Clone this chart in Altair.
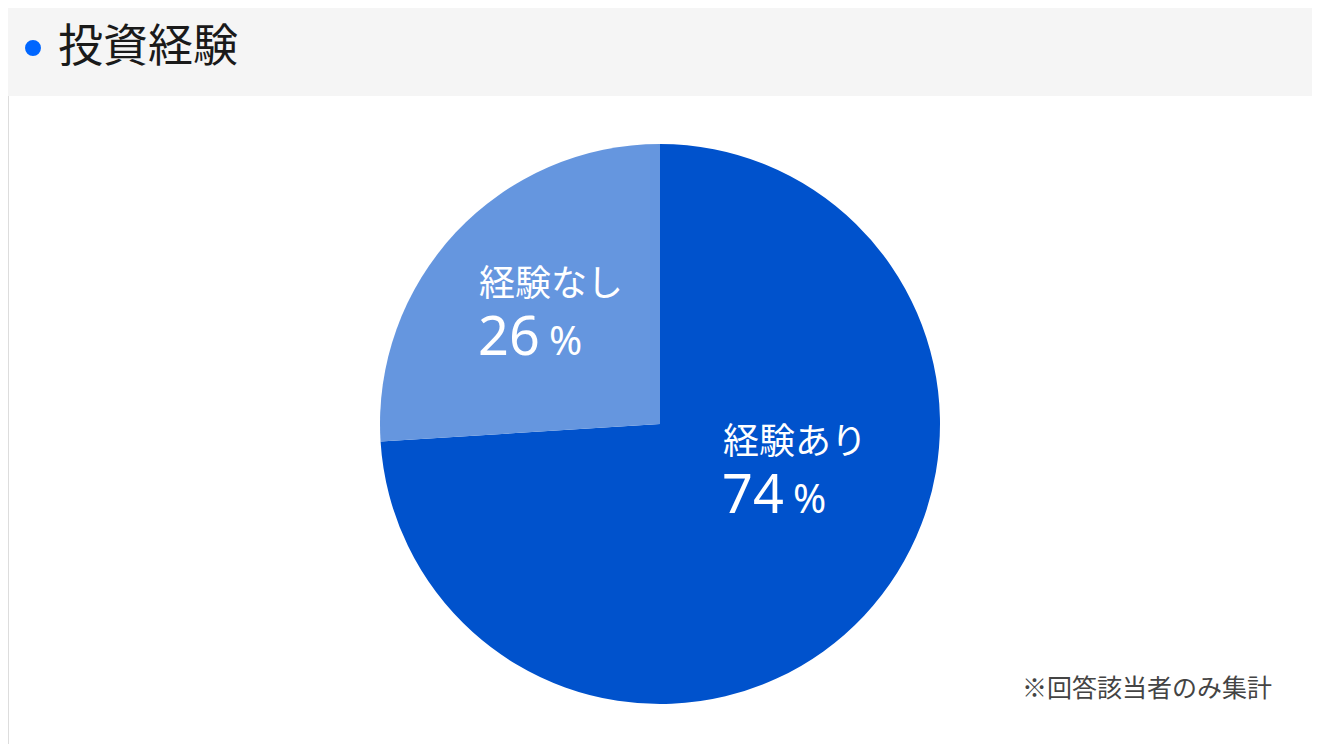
import altair as alt
import pandas as pd

# ---- data ----
categories = ["経験あり", "経験なし"]
values = [74, 26]
slice_order = [0, 1]
slice_colors = ["#0052CC", "#6596DF"]
title_text = "投資経験"
note_text = "※回答該当者のみ集計"

df = pd.DataFrame({"category": categories, "value": values, "order": slice_order})
one = pd.DataFrame({"k": [0]})

W, H = 1304, 736
FONT = "Noto Sans CJK JP"
NUMFONT = "Noto Sans"

band = alt.Chart(one).mark_rect(color="#F5F5F5").encode(
    x=alt.value(0), x2=alt.value(W), y=alt.value(0), y2=alt.value(88)
)
dot = alt.Chart(one).mark_point(filled=True, size=254, color="#0066FF", opacity=1, shape="circle").encode(
    x=alt.value(25), y=alt.value(40)
)
title = alt.Chart(one).mark_text(
    text=title_text, font=FONT, fontSize=45, color="#1A1A1A", align="left", baseline="middle"
).encode(x=alt.value(50), y=alt.value(40))

pie = alt.Chart(df).mark_arc(radius=280).encode(
    theta=alt.Theta("value:Q", stack=True),
    order=alt.Order("order:Q"),
    color=alt.Color("category:N", scale=alt.Scale(domain=categories, range=slice_colors), legend=None),
    x=alt.value(652),
    y=alt.value(416),
)

def labels(cat, lx, ly, ny):
    base = alt.Chart(df).transform_filter(alt.datum.category == cat)
    name = base.mark_text(font=FONT, fontSize=36, color="white", align="left", baseline="middle").encode(
        text="category:N", x=alt.value(lx - 1), y=alt.value(ly)
    )
    num = base.mark_text(font=NUMFONT, fontSize=54, color="white", align="left", baseline="alphabetic").encode(
        text=alt.Text("value:Q", format="d"), x=alt.value(lx - 2), y=alt.value(ny)
    )
    pct = base.mark_text(text="%", font=NUMFONT, fontSize=40, color="white", align="left", baseline="alphabetic").encode(
        x=alt.value(lx + 69), y=alt.value(ny)
    )
    return name + num + pct

lab_no = labels("経験なし", 472, 277, 347)
lab_yes = labels("経験あり", 716, 435, 505)

note = alt.Chart(one).mark_text(
    text=note_text, font=FONT, fontSize=25, color="#444444", align="right", baseline="middle"
).encode(x=alt.value(1264), y=alt.value(681))

chart = alt.layer(band, dot, title, pie, lab_no, lab_yes, note).properties(
    width=W, height=H, padding=0, autosize=alt.AutoSizeParams(type="none")
).configure_view(stroke="transparent", strokeWidth=0).configure(background="white")

chart.save("out.html", embed_options={"renderer": "svg", "actions": False})
